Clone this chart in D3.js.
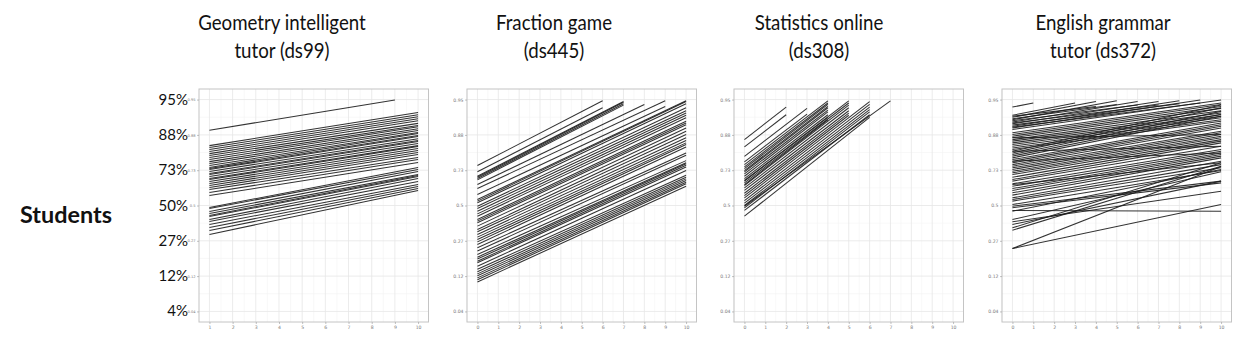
<!DOCTYPE html>
<html>
<head>
<meta charset="utf-8">
<script src="https://cdn.jsdelivr.net/npm/d3@7"></script>
<style>
  body { margin: 0; background: #fff; }
  svg { display: block; }
</style>
</head>
<body>
<svg id="chart" width="1246" height="350"></svg>
<script>
// ---- data -------------------------------------------------------------
const panelTitles = [
  ["Geometry intelligent", "tutor (ds99)"],
  ["Fraction game", "(ds445)"],
  ["Statistics online", "(ds308)"],
  ["English grammar", "tutor (ds372)"]
];
const rowLabel = "Students";

// y ticks sit on a logit scale (logit = -3 ... 3)
const yTickValues = [0.0474, 0.1192, 0.2689, 0.5, 0.7311, 0.8808, 0.9526];
const yTickLabels = ["0.04", "0.12", "0.27", "0.5", "0.73", "0.88", "0.95"];
const yPercentLabels = ["4%", "12%", "27%", "50%", "73%", "88%", "95%"];

const xTicksGeometry = [1, 2, 3, 4, 5, 6, 7, 8, 9, 10];
const xTicksOther = [0, 1, 2, 3, 4, 5, 6, 7, 8, 9, 10];

// Geometry intelligent tutor (ds99): every student starts at opportunity 1
const geoStartX = 1;
const geoStartP = [0.894,
  0.845, 0.838, 0.830, 0.822, 0.813, 0.805, 0.796, 0.786, 0.776, 0.767,
  0.756, 0.746, 0.740, 0.735, 0.724, 0.712, 0.706, 0.694, 0.682, 0.676,
  0.664, 0.651, 0.638, 0.625, 0.611, 0.591, 0.570,
  0.486, 0.479, 0.458, 0.444, 0.430, 0.423, 0.402, 0.389, 0.369, 0.349, 0.330, 0.306];
const geoEndX = [9,
  10, 10, 10, 10, 10, 10, 10, 10, 10, 10,
  10, 10, 10, 10, 10, 10, 10, 10, 10, 10,
  10, 10, 10, 10, 10, 10, 10,
  10, 10, 10, 10, 10, 10, 10, 10, 10, 10, 10, 10];
const geoEndP = [0.952,
  0.933, 0.929, 0.925, 0.921, 0.917, 0.911, 0.906, 0.903, 0.898, 0.893,
  0.888, 0.885, 0.879, 0.876, 0.869, 0.863, 0.860, 0.853, 0.845, 0.842,
  0.834, 0.826, 0.818, 0.809, 0.796, 0.786, 0.772,
  0.746, 0.735, 0.724, 0.706, 0.700, 0.694, 0.682, 0.664, 0.644, 0.631, 0.618, 0.605];

// Fraction game (ds445)
const fracStartX = 0;
const fracStartP = [0.756, 0.722, 0.696, 0.690, 0.682, 0.674, 0.644, 0.618, 0.577,
  0.542, 0.531, 0.519, 0.495, 0.460, 0.425, 0.402, 0.380, 0.358, 0.336, 0.322,
  0.276, 0.263, 0.232, 0.216, 0.200, 0.188, 0.180, 0.171, 0.165, 0.152,
  0.141, 0.133, 0.126, 0.120, 0.114, 0.109, 0.103,
  0.479, 0.441, 0.391, 0.306, 0.290, 0.249];
const fracEndX = [6, 6, 7, 7, 7, 7, 8, 9, 9,
  10, 10, 10, 10, 10, 10, 10, 10, 10, 10, 10,
  10, 10, 10, 10, 10, 10, 10, 10, 10, 10,
  10, 10, 10, 10, 10, 10, 10,
  10, 10, 10, 10, 10, 10];
const fracEndP = [0.951, 0.941, 0.950, 0.949, 0.947, 0.945, 0.946, 0.951, 0.943,
  0.951, 0.950, 0.947, 0.941, 0.932, 0.923, 0.916, 0.908, 0.900, 0.891, 0.882,
  0.855, 0.849, 0.816, 0.806, 0.781, 0.770, 0.765, 0.758, 0.749, 0.729,
  0.702, 0.690, 0.680, 0.670, 0.659, 0.649, 0.633,
  0.936, 0.928, 0.912, 0.872, 0.863, 0.840];

// Statistics online (ds308)
const statStartX = 0;
const statStartP = [0.866, 0.840, 0.801, 0.775,
  0.761, 0.749, 0.740, 0.729, 0.722, 0.710, 0.696, 0.682, 0.666,
  0.670, 0.655, 0.638, 0.622, 0.605, 0.586,
  0.554, 0.535, 0.517, 0.500, 0.483, 0.465, 0.425,
  0.495, 0.644, 0.570];
const statEndX = [2, 2, 3, 3,
  4, 4, 4, 4, 4, 4, 4, 4, 4,
  5, 5, 5, 5, 5, 5,
  6, 6, 6, 6, 6, 6, 6,
  7, 4, 5];
const statEndP = [0.942, 0.929, 0.940, 0.930,
  0.951, 0.948, 0.946, 0.943, 0.941, 0.937, 0.934, 0.929, 0.924,
  0.951, 0.948, 0.945, 0.941, 0.936, 0.932,
  0.950, 0.946, 0.942, 0.938, 0.934, 0.929, 0.924,
  0.951, 0.919, 0.928];

// English grammar tutor (ds372)
const gramStartX = 0;
const gramStartP = [0.942, 0.928, 0.924, 0.919, 0.914, 0.910, 0.904, 0.900, 0.896,
  0.926, 0.921, 0.917, 0.912, 0.907, 0.902,
  0.887, 0.882, 0.877, 0.872, 0.866, 0.861, 0.855, 0.849, 0.843, 0.836, 0.830,
  0.823, 0.816, 0.809, 0.802, 0.794, 0.786, 0.778, 0.770, 0.761, 0.753, 0.744, 0.735, 0.725,
  0.716, 0.706, 0.690, 0.676, 0.666, 0.649, 0.633, 0.618, 0.605, 0.589, 0.573,
  0.554, 0.542, 0.531, 0.507, 0.495, 0.484,
  0.460, 0.402, 0.387, 0.369, 0.347, 0.332,
  0.465, 0.228, 0.228,
  0.872, 0.823, 0.778, 0.644];
const gramEndX = [1, 3, 4, 5, 6, 7, 8, 9, 10,
  4, 5, 6, 7, 8, 9,
  10, 10, 10, 10, 10, 10, 10, 10, 10, 10, 10,
  10, 10, 10, 10, 10, 10, 10, 10, 10, 10, 10, 10, 10,
  10, 10, 10, 10, 10, 10, 10, 10, 10, 10, 10,
  10, 10, 10, 10, 10, 10,
  10, 10, 10, 10, 10, 10,
  10, 10, 10,
  10, 10, 10, 10];
const gramEndP = [0.948, 0.948, 0.950, 0.951, 0.950, 0.950, 0.951, 0.952, 0.952,
  0.943, 0.946, 0.945, 0.945, 0.947, 0.948,
  0.948, 0.946, 0.943, 0.940, 0.936, 0.932, 0.929, 0.926, 0.923, 0.919, 0.916,
  0.945, 0.941, 0.935, 0.930, 0.926, 0.912, 0.908, 0.904, 0.900, 0.891, 0.887, 0.882, 0.877,
  0.872, 0.866, 0.861, 0.855, 0.843, 0.830, 0.823, 0.816, 0.809, 0.802, 0.794,
  0.778, 0.761, 0.744, 0.729, 0.666, 0.655,
  0.735, 0.722, 0.600, 0.666, 0.770, 0.753,
  0.460, 0.507, 0.751,
  0.882, 0.843, 0.816, 0.770];

// ---- layout -----------------------------------------------------------
const panels = [
  { left: 199, xDomain: [0.55, 10.45], xTicks: xTicksGeometry, titleX: 282,
    startX: geoStartX, startP: geoStartP, endX: geoEndX, endP: geoEndP },
  { left: 467, xDomain: [-0.5, 10.5], xTicks: xTicksOther, titleX: 554,
    startX: fracStartX, startP: fracStartP, endX: fracEndX, endP: fracEndP },
  { left: 734, xDomain: [-0.5, 10.5], xTicks: xTicksOther, titleX: 819,
    startX: statStartX, startP: statStartP, endX: statEndX, endP: statEndP },
  { left: 1002, xDomain: [-0.5, 10.5], xTicks: xTicksOther, titleX: 1103,
    startX: gramStartX, startP: gramStartP, endX: gramEndX, endP: gramEndP }
];
const panelW = 229.5, panelTop = 89, panelH = 233;
const titleFont = "Lato, 'Open Sans', sans-serif";

const logit = p => Math.log(p / (1 - p));
const svg = d3.select("#chart");

// logit-scaled y axis shared by all panels
const yLogit = d3.scaleLinear().domain([-3.3, 3.3]).range([panelTop + panelH, panelTop]);
const y = p => yLogit(logit(p));

panels.forEach((pn, i) => {
  const x = d3.scaleLinear().domain(pn.xDomain).range([pn.left, pn.left + panelW]);
  const g = svg.append("g");

  // minor and major grid
  const xMinor = d3.range(Math.ceil(pn.xDomain[0] * 2) / 2, pn.xDomain[1], 0.5)
    .filter(v => !Number.isInteger(v));
  g.selectAll(".xminor").data(xMinor).join("line")
    .attr("x1", d => x(d)).attr("x2", d => x(d))
    .attr("y1", panelTop).attr("y2", panelTop + panelH)
    .attr("stroke", "#f3f3f3").attr("stroke-width", 0.6);
  const yMinor = [-2.5, -1.5, -0.5, 0.5, 1.5, 2.5];
  g.selectAll(".yminor").data(yMinor).join("line")
    .attr("x1", pn.left).attr("x2", pn.left + panelW)
    .attr("y1", d => yLogit(d)).attr("y2", d => yLogit(d))
    .attr("stroke", "#f3f3f3").attr("stroke-width", 0.6);
  g.selectAll(".xmajor").data(pn.xTicks).join("line")
    .attr("x1", d => x(d)).attr("x2", d => x(d))
    .attr("y1", panelTop).attr("y2", panelTop + panelH)
    .attr("stroke", "#e6e6e6").attr("stroke-width", 0.8);
  g.selectAll(".ymajor").data(yTickValues).join("line")
    .attr("x1", pn.left).attr("x2", pn.left + panelW)
    .attr("y1", d => y(d)).attr("y2", d => y(d))
    .attr("stroke", "#e6e6e6").attr("stroke-width", 0.8);

  // student trajectories
  const segs = pn.startP.map((sp, k) => ({ x0: pn.startX, p0: sp, x1: pn.endX[k], p1: pn.endP[k] }));
  g.selectAll(".traj").data(segs).join("line")
    .attr("x1", d => x(d.x0)).attr("y1", d => y(d.p0))
    .attr("x2", d => x(d.x1)).attr("y2", d => y(d.p1))
    .attr("stroke", "#1c1c1c").attr("stroke-width", 1.05).attr("stroke-opacity", 0.9);

  // panel border
  g.append("rect").attr("x", pn.left).attr("y", panelTop)
    .attr("width", panelW).attr("height", panelH)
    .attr("fill", "none").attr("stroke", "#c4c4c4").attr("stroke-width", 1);

  // tiny axes
  const xAxis = d3.axisBottom(x).tickValues(pn.xTicks).tickSize(2).tickPadding(1.5);
  const ax = g.append("g").attr("transform", `translate(0,${panelTop + panelH})`).call(xAxis);
  const yAxis = d3.axisLeft(yLogit).tickValues(yTickValues.map(logit))
    .tickFormat((d, k) => yTickLabels[k]).tickSize(2).tickPadding(1.5);
  const ay = g.append("g").attr("transform", `translate(${pn.left},0)`).call(yAxis);
  [ax, ay].forEach(a => {
    a.attr("opacity", 0.99);
    a.select(".domain").remove();
    a.selectAll(".tick line").attr("stroke", "#999").attr("stroke-width", 0.6);
    a.selectAll(".tick text").attr("fill", "#7a7a7a").attr("font-size", 4.6)
      .attr("font-family", "'DejaVu Sans', sans-serif");
  });
  if (i === 0) ay.selectAll(".tick text").attr("font-size", 3.6);

  // panel title, slightly condensed
  const t = svg.append("text").attr("text-anchor", "middle")
    .attr("transform", `translate(${pn.titleX},0) scale(0.89,1)`)
    .attr("font-family", titleFont).attr("font-size", 21).attr("fill", "#111");
  panelTitles[i].forEach((line, k) => {
    t.append("tspan").attr("x", 0).attr("y", 30 + k * 28).text(line);
  });
});

// percent labels next to the first panel
svg.append("g").selectAll("text").data(yTickValues).join("text")
  .attr("x", 188).attr("y", d => y(d) + 5)
  .attr("text-anchor", "end")
  .attr("font-family", titleFont).attr("font-size", 15).attr("fill", "#111")
  .text((d, k) => yPercentLabels[k]);

// row label
svg.append("text").attr("x", 20).attr("y", 223)
  .attr("font-family", titleFont).attr("font-weight", "bold")
  .attr("font-size", 22).attr("fill", "#111")
  .attr("textLength", 92).attr("lengthAdjust", "spacingAndGlyphs")
  .text(rowLabel);
</script>
</body>
</html>
